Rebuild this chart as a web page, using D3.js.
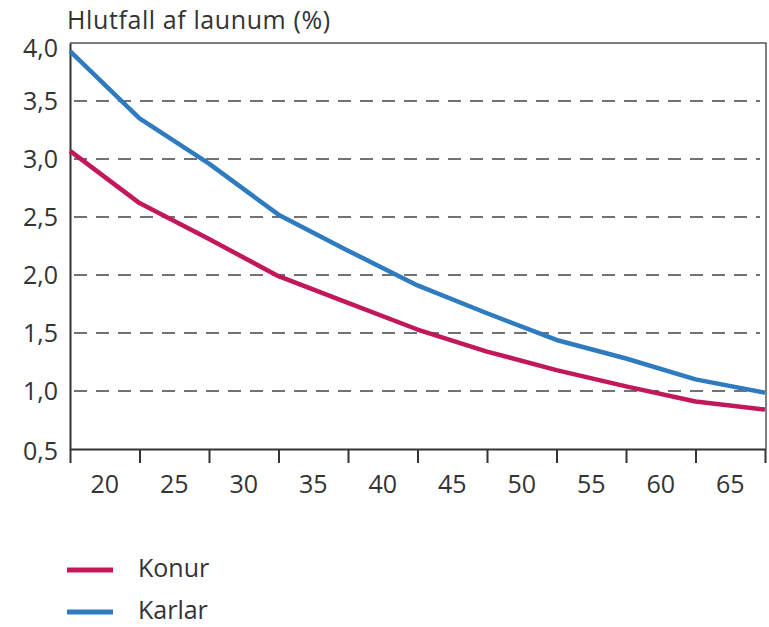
<!DOCTYPE html>
<html>
<head>
<meta charset="utf-8">
<script src="https://cdn.jsdelivr.net/npm/d3@7"></script>
<style>
  body { margin: 0; background: #fff; }
  text { font-family: "Open Sans", "Noto Sans", sans-serif; fill: #333; }
</style>
</head>
<body>
<svg id="chart" width="769" height="627"></svg>
<script>
// age positions of the data points (group boundaries)
const ages = [17.5, 22.5, 27.5, 32.5, 37.5, 42.5, 47.5, 52.5, 57.5, 62.5, 67.5];
const konur = [3.07, 2.62, 2.31, 1.99, 1.76, 1.53, 1.34, 1.18, 1.04, 0.91, 0.84];
const karlar = [3.93, 3.35, 2.96, 2.52, 2.21, 1.91, 1.67, 1.44, 1.28, 1.10, 0.985];
const xTicks = [17.5, 22.5, 27.5, 32.5, 37.5, 42.5, 47.5, 52.5, 57.5, 62.5, 67.5];
const xLabels = [20, 25, 30, 35, 40, 45, 50, 55, 60, 65];
const yTicks = [0.5, 1.0, 1.5, 2.0, 2.5, 3.0, 3.5, 4.0];
const seriesNames = ["Konur", "Karlar"];
const seriesColors = ["#c2185b", "#2e7bc0"];

const svg = d3.select("#chart");
const x = d3.scaleLinear().domain([17.5, 67.5]).range([70, 765]);
const y = d3.scaleLinear().domain([0.5, 4.0]).range([449, 43]);
const fmt = d => d.toFixed(1).replace(".", ",");

// dashed grid
svg.append("g")
  .selectAll("line")
  .data(yTicks.filter(d => d > 0.5 && d < 4.0))
  .join("line")
  .attr("x1", x(17.5) + 4).attr("x2", 760)
  .attr("y1", d => y(d)).attr("y2", d => y(d))
  .attr("stroke", "#444")
  .attr("stroke-width", 1.5)
  .attr("stroke-dasharray", "13,9");

// frame (top + right)
svg.append("path")
  .attr("d", `M${x(17.5)},${y(4)}H${x(67.5) + 1}V${y(0.5)}`)
  .attr("fill", "none")
  .attr("stroke", "#555")
  .attr("stroke-width", 1.5);

// y axis
const yAxis = svg.append("g")
  .attr("transform", `translate(${x(17.5)},0)`)
  .call(d3.axisLeft(y).tickValues(yTicks).tickFormat(fmt).tickSize(0).tickPadding(12));
yAxis.select(".domain").attr("stroke", "#333").attr("stroke-width", 2);
yAxis.selectAll("text")
  .style("font-size", "25px")
  .attr("fill", "#333")
  .attr("dy", d => d === 4.0 ? "0.52em" : d === 0.5 ? "0.4em" : "0.32em");

// x axis
const xAxis = svg.append("g")
  .attr("transform", `translate(0,${y(0.5)})`)
  .call(d3.axisBottom(x).tickValues(xTicks).tickFormat("").tickSize(14).tickSizeOuter(0));
xAxis.select(".domain").attr("stroke", "#333").attr("stroke-width", 2);
xAxis.selectAll(".tick line").attr("stroke", "#333").attr("stroke-width", 2);

svg.append("g")
  .selectAll("text")
  .data(xLabels)
  .join("text")
  .attr("x", d => x(d))
  .attr("y", 493)
  .attr("text-anchor", "middle")
  .style("font-size", "25px")
  .text(d => d);

// title
svg.append("text")
  .attr("x", 67).attr("y", 29)
  .style("font-size", "25px")
  .style("letter-spacing", "0.6px")
  .text("Hlutfall af launum (%)");

// lines
const line = d3.line()
  .x((d, i) => x(ages[i]))
  .y(d => y(d));
[konur, karlar].forEach((s, i) => {
  svg.append("path")
    .datum(s)
    .attr("d", line)
    .attr("fill", "none")
    .attr("stroke", seriesColors[i])
    .attr("stroke-width", 4.5)
    .attr("stroke-linejoin", "round");
});

// legend (nudged up a little so the last label stays inside the canvas)
const legend = svg.append("g")
  .selectAll("g")
  .data(seriesNames)
  .join("g")
  .attr("transform", (d, i) => `translate(67,${570 + i * 42})`);
legend.append("line")
  .attr("x1", 0).attr("x2", 46)
  .attr("stroke", (d, i) => seriesColors[i])
  .attr("stroke-width", 5);
legend.append("text")
  .attr("x", 71).attr("y", 7)
  .style("font-size", "25px")
  .text(d => d);
</script>
</body>
</html>
